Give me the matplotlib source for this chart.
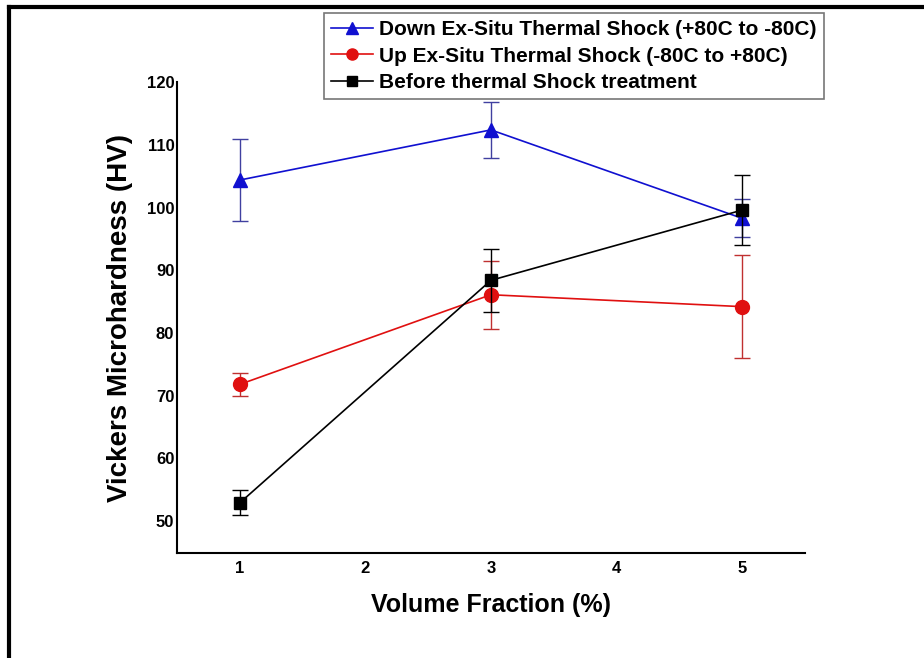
import matplotlib.pyplot as plt
from matplotlib.lines import Line2D

plt.rcParams['font.family'] = ['Liberation Sans', 'DejaVu Sans']
plt.rcParams['font.weight'] = 'bold'

volume_fraction = [1, 3, 5]

down_labels = "Down Ex-Situ Thermal Shock (+80C to -80C)"
down_hv = [104.4, 112.4, 98.3]
down_err = [6.5, 4.5, 3.0]

up_labels = "Up Ex-Situ Thermal Shock (-80C to +80C)"
up_hv = [71.8, 86.1, 84.2]
up_err = [1.8, 5.4, 8.2]

before_labels = "Before thermal Shock treatment"
before_hv = [52.9, 88.4, 99.6]
before_err = [2.0, 5.0, 5.6]

x_ticks = [1, 2, 3, 4, 5]
y_ticks = [50, 60, 70, 80, 90, 100, 110, 120]

fig = plt.figure(figsize=(9.24, 6.58), dpi=100)
ax = fig.add_axes([0.1916, 0.1596, 0.6794, 0.7154])

ax.errorbar(volume_fraction, down_hv, yerr=down_err, color='#1010d0', ecolor='#4040a0',
            marker='^', markersize=10, lw=1.2, elinewidth=1, capsize=6, zorder=3)
ax.errorbar(volume_fraction, up_hv, yerr=up_err, color='#e01010', ecolor='#c03030',
            marker='o', markersize=10, lw=1.2, elinewidth=1, capsize=6, zorder=3)
ax.errorbar(volume_fraction, before_hv, yerr=before_err, color='black', ecolor='black',
            marker='s', markersize=8, lw=1.2, elinewidth=1, capsize=6, zorder=4)

ax.set_xlim(0.5, 5.5)
ax.set_ylim(44.9, 120)
ax.set_xticks(x_ticks)
ax.set_yticks(y_ticks)
ax.tick_params(length=0, labelsize=12, pad=6)
ax.tick_params(axis='y', pad=2)
for s in ['top', 'right']:
    ax.spines[s].set_visible(False)
for s in ['left', 'bottom']:
    ax.spines[s].set_linewidth(1.5)

ax.set_xlabel("Volume Fraction (%)", fontsize=18, fontweight='bold', labelpad=12)
ax.set_ylabel("Vickers Microhardness (HV)", fontsize=20, fontweight='bold', labelpad=10)

handles = [
    Line2D([], [], color='#1010d0', marker='^', markersize=8, lw=1.2),
    Line2D([], [], color='#e01010', marker='o', markersize=8, lw=1.2),
    Line2D([], [], color='black', marker='s', markersize=7, lw=1.2),
]
leg = fig.legend(handles, [down_labels, up_labels, before_labels],
                 loc='upper right', bbox_to_anchor=(824 / 924, 1 - 13 / 658), fontsize=15,
                 frameon=True, fancybox=False, edgecolor='#555555', handlelength=2.0,
                 handletextpad=0.3, borderpad=0.35, labelspacing=0.35, borderaxespad=0)
leg.get_frame().set_linewidth(1.2)

# outer frame
fig.add_artist(Line2D([9 / 924, 1], [1 - 7 / 658, 1 - 7 / 658], color='black', lw=3))
fig.add_artist(Line2D([9 / 924, 9 / 924], [0, 1 - 7 / 658], color='black', lw=3))

fig.savefig("out.png", dpi=100)
